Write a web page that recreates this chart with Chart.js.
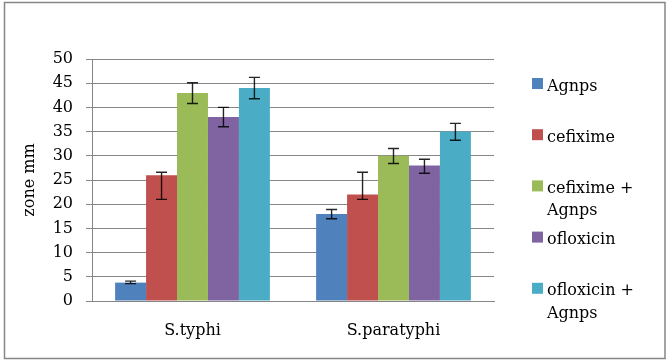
<!DOCTYPE html>
<html>
<head>
<meta charset="utf-8">
<script src="https://cdn.jsdelivr.net/npm/chart.js@4"></script>
<style>
  html, body { margin: 0; padding: 0; background: #fff; }
  #wrap { width: 669px; height: 363px; }
</style>
</head>
<body>
<div id="wrap"><canvas id="graph" width="669" height="363"></canvas></div>
<script>
// donnees
const categories = ["S.typhi", "S.paratyphi"];
const seriesNames = [["Agnps"], ["cefixime"], ["cefixime +", "Agnps"], ["ofloxicin"], ["ofloxicin +", "Agnps"]];
const agnps = [3.8, 18];
const cefixime = [26, 22];
const cefiximeAgnps = [43, 30];
const ofloxicin = [38, 28];
const ofloxicinAgnps = [44, 35];

// barres d'erreur (moins / plus)
const errAgnpsMoins = [0.2, 1.0];
const errAgnpsPlus = [0.3, 0.9];
const errCefiximeMoins = [5.0, 1.0];
const errCefiximePlus = [0.6, 4.6];
const errCefAgMoins = [2.2, 1.6];
const errCefAgPlus = [2.1, 1.5];
const errOfloMoins = [2.0, 1.6];
const errOfloPlus = [2.0, 1.3];
const errOfloAgMoins = [2.2, 1.8];
const errOfloAgPlus = [2.2, 1.7];

const yTicks = [0, 5, 10, 15, 20, 25, 30, 35, 40, 45, 50];

const couleurs = ["#4F81BD", "#C0504D", "#9BBB59", "#8064A2", "#4BACC6"];
const valeurs = [agnps, cefixime, cefiximeAgnps, ofloxicin, ofloxicinAgnps];
const moins = [errAgnpsMoins, errCefiximeMoins, errCefAgMoins, errOfloMoins, errOfloAgMoins];
const plus = [errAgnpsPlus, errCefiximePlus, errCefAgPlus, errOfloPlus, errOfloAgPlus];

const police = "'DejaVu Serif', serif";

let datasets = [];
for (let i = 0; i < valeurs.length; i++) {
    datasets.push({
        label: seriesNames[i].join(" "),
        data: valeurs[i],
        backgroundColor: couleurs[i],
        borderWidth: 0,
        categoryPercentage: 0.77,
        barPercentage: 1
    });
}

const cadre = {
    id: "cadre",
    beforeDraw(chart) {
        const c = chart.ctx;
        c.save();
        c.fillStyle = "#fff";
        c.fillRect(0, 0, chart.width, chart.height);
        c.strokeStyle = "#868686";
        c.lineWidth = 1.5;
        c.strokeRect(4.5, 2.5, 660.5, 356);
        c.restore();
    }
};

const barresErreur = {
    id: "barresErreur",
    afterDatasetsDraw(chart) {
        const c = chart.ctx;
        const y = chart.scales.y;
        c.save();
        c.strokeStyle = "rgba(0,0,0,0.85)";
        c.lineWidth = 1.4;
        for (let d = 0; d < valeurs.length; d++) {
            const meta = chart.getDatasetMeta(d);
            for (let i = 0; i < valeurs[d].length; i++) {
                const x = meta.data[i].x;
                const haut = y.getPixelForValue(valeurs[d][i] + plus[d][i]);
                const bas = y.getPixelForValue(valeurs[d][i] - moins[d][i]);
                c.beginPath();
                c.moveTo(x, haut); c.lineTo(x, bas);
                c.moveTo(x - 5.5, haut); c.lineTo(x + 5.5, haut);
                c.moveTo(x - 5.5, bas); c.lineTo(x + 5.5, bas);
                c.stroke();
            }
        }
        c.restore();
    }
};

const legende = {
    id: "legende",
    afterDraw(chart) {
        const c = chart.ctx;
        c.save();
        c.font = "16px " + police;
        c.textBaseline = "alphabetic";
        c.fillStyle = "#000";
        for (let i = 0; i < seriesNames.length; i++) {
            const top = 78 + i * 51.2;
            c.fillStyle = couleurs[i];
            c.fillRect(532, top, 11, 11);
            c.fillStyle = "#000";
            for (let l = 0; l < seriesNames[i].length; l++) {
                c.fillText(seriesNames[i][l], 547, top + 12.5 + l * 22.5);
            }
        }
        c.restore();
    }
};

new Chart(document.getElementById("graph").getContext("2d"), {
    type: "bar",
    data: { labels: categories, datasets: datasets },
    plugins: [cadre, barresErreur, legende],
    options: {
        responsive: false,
        animation: false,
        layout: { padding: { top: 59, right: 175, left: 0, bottom: 0 } },
        plugins: { legend: { display: false }, tooltip: { enabled: false } },
        scales: {
            x: {
                grid: { display: false, drawTicks: false },
                border: { display: true, color: "#868686", width: 1 },
                ticks: { color: "#000", font: { family: police, size: 16 }, padding: 20 },
                afterFit(scale) { scale.height = 62; }
            },
            y: {
                min: 0,
                max: 50,
                afterBuildTicks(scale) { scale.ticks = yTicks.map(v => ({ value: v })); },
                grid: { color: "#868686", lineWidth: 1, tickLength: 6 },
                border: { display: true, color: "#868686", width: 1 },
                ticks: { color: "#000", font: { family: police, size: 16 }, padding: 13 },
                title: {
                    display: true,
                    text: "zone mm",
                    color: "#000",
                    font: { family: police, size: 16 },
                    padding: { top: 20, bottom: 0 }
                },
                afterFit(scale) { scale.width = 92; }
            }
        }
    }
});
</script>
</body>
</html>
